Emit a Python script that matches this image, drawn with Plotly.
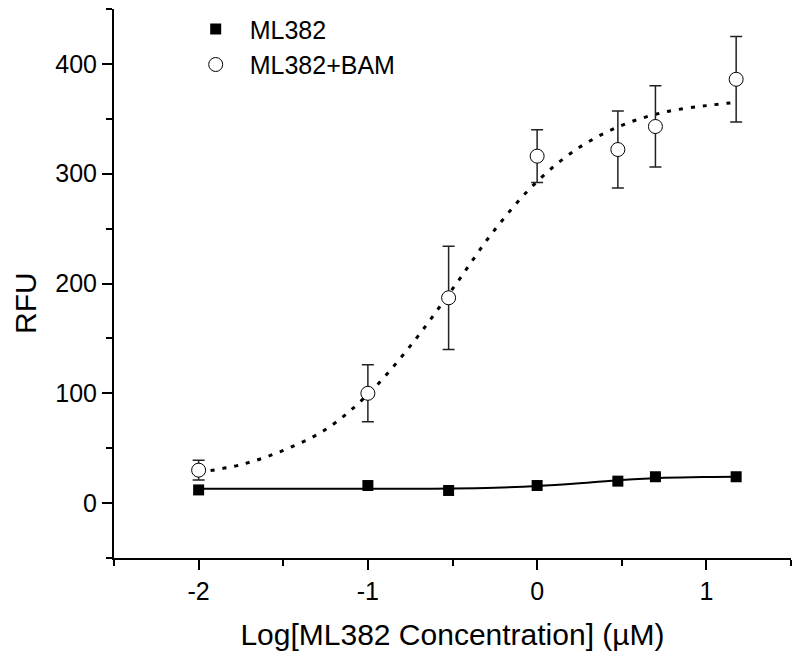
import plotly.graph_objects as go

# Data (log10 concentration in µM)
x_pts = [-2.0, -1.0, -0.523, 0.0, 0.477, 0.699, 1.176]
ml382 = [12, 16, 11.5, 16, 20, 24, 24]
bam = [30, 100, 187, 316, 322, 343, 386]
bam_err = [9, 26, 47, 24, 35, 37, 39]

# Fitted curves
fit_x = [-2.0, -1.75, -1.5, -1.25, -1.0, -0.75, -0.5, -0.25, 0.0, 0.25, 0.5, 0.75, 1.0, 1.176]
fit_bam = [28, 35, 48, 67, 99, 143, 195, 249, 293, 324, 344, 356, 362, 365]
fit_ml382 = [13, 13, 13, 13, 13, 13.1, 13.3, 14, 15.5, 18, 21, 23, 23.8, 24]

x_ticks = [-2, -1, 0, 1]
x_minor = [-2.5, -1.5, -0.5, 0.5, 1.5]
y_ticks = [0, 100, 200, 300, 400]
y_minor = [-50, 50, 150, 250, 350, 450]

FONT = "Liberation Sans, Arial, sans-serif"

fig = go.Figure()

fig.add_trace(go.Scatter(x=fit_x, y=fit_bam, mode="lines", line_shape="spline",
                         line=dict(color="black", width=3, dash="4px,8px"), showlegend=False, hoverinfo="skip"))
fig.add_trace(go.Scatter(x=fit_x, y=fit_ml382, mode="lines", line_shape="spline",
                         line=dict(color="black", width=2), showlegend=False, hoverinfo="skip"))

fig.add_trace(go.Scatter(x=x_pts, y=ml382, mode="markers", name="ML382",
                         marker=dict(symbol="square", size=11, color="black", line=dict(width=0))))
fig.add_trace(go.Scatter(x=x_pts, y=bam, mode="markers", name="ML382+BAM",
                         marker=dict(symbol="circle", size=14, color="white", line=dict(color="black", width=1)),
                         error_y=dict(type="data", array=bam_err, visible=True, color="#222", thickness=1.5, width=6)))

axis_common = dict(showline=True, linecolor="black", linewidth=2, ticks="outside", ticklen=10, tickwidth=2,
                   tickcolor="black", showgrid=False, zeroline=False, automargin=False,
                   tickfont=dict(family=FONT, size=25, color="black"))

fig.update_xaxes(range=[-2.5, 1.5], tickvals=x_ticks, ticktext=[str(v) for v in x_ticks],
                 minor=dict(tickvals=x_minor, ticklen=6, tickwidth=2, tickcolor="black", ticks="outside"),
                 title=dict(text="Log[ML382 Concentration] (µM)", font=dict(family=FONT, size=30, color="black"), standoff=20),
                 **axis_common)
fig.update_yaxes(range=[-50, 450], tickvals=y_ticks,
                 minor=dict(tickvals=y_minor, ticklen=6, tickwidth=2, tickcolor="black", ticks="outside"),
                 **axis_common)

fig.add_annotation(text="RFU", textangle=-90, xref="paper", yref="paper", x=0, y=0.4645,
                   xanchor="center", yanchor="middle", xshift=-88, showarrow=False,
                   font=dict(family=FONT, size=30, color="black"))

fig.update_layout(
    width=800, height=662,
    margin=dict(l=106, r=17, t=1, b=112, autoexpand=False),
    plot_bgcolor="white", paper_bgcolor="white",
    legend=dict(x=0.1, y=1.005, xanchor="left", yanchor="top", bgcolor="rgba(0,0,0,0)",
                font=dict(family=FONT, size=25, color="black"), itemwidth=58),
)

fig.write_html("out.html")
